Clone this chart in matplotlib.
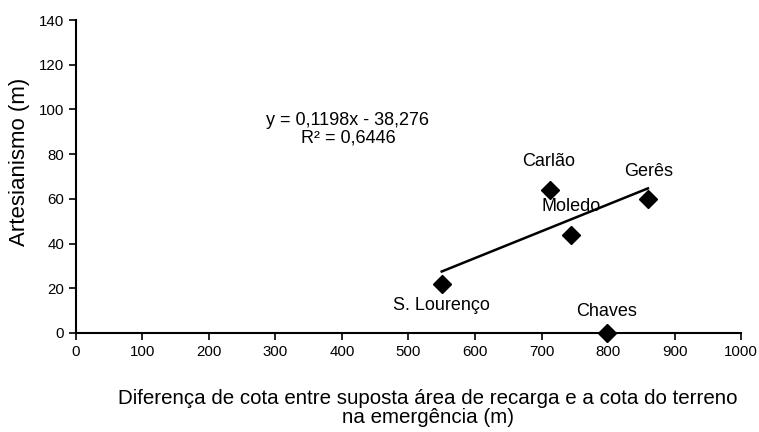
import matplotlib.pyplot as plt
import numpy as np

plt.rcParams['font.family'] = ['Liberation Sans', 'DejaVu Sans']

names = ['S. Lourenço', 'Carlão', 'Moledo', 'Gerês', 'Chaves']
dif_cota = [550, 713, 744, 860, 798]
artesianismo = [22, 64, 44, 60, 0]
# a recta de tendencia nao inclui Chaves
trend_idx = [0, 1, 2, 3]

fig = plt.figure(figsize=(7.59, 4.32), dpi=100)
ax = fig.add_axes([0.1001, 0.2292, 0.8762, 0.7245])

ax.plot(dif_cota, artesianismo, linestyle='none', marker='D', markersize=9,
        color='black', zorder=3, clip_on=False)

xt = np.array([dif_cota[i] for i in trend_idx])
yt = np.array([artesianismo[i] for i in trend_idx])
slope, intercept = np.polyfit(xt, yt, 1)
xl = np.array([xt.min(), xt.max()])
ax.plot(xl, slope * xl + intercept, color='black', lw=1.8)

# deslocamento das etiquetas (unidades dos dados)
offsets = {'S. Lourenço': (-1, -9.5), 'Carlão': (-2, 12.5), 'Moledo': (0, 12.4),
           'Gerês': (1, 12.4), 'Chaves': (0, 9.8)}
for n, x, y in zip(names, dif_cota, artesianismo):
    dx, dy = offsets[n]
    ax.text(x + dx, y + dy, n, ha='center', va='center', fontsize=13)

ax.text(409, 91, 'y = 0,1198x - 38,276\nR² = 0,6446', ha='center', va='center',
        fontsize=13, linespacing=1.05)

ax.set_xlim(0, 1000)
ax.set_ylim(0, 140)
ax.set_xticks(range(0, 1001, 100))
ax.set_yticks(range(0, 141, 20))
for s in ['top', 'right']:
    ax.spines[s].set_visible(False)
for s in ['left', 'bottom']:
    ax.spines[s].set_linewidth(1.5)
ax.tick_params(direction='out', length=5, width=1.2, labelsize=10.8)

fig.text(20 / 759, 1 - 162 / 432, 'Artesianismo (m)', rotation=90,
         ha='center', va='center', fontsize=16)
fig.text(428 / 759, 1 - 408 / 432,
         'Diferença de cota entre suposta área de recarga e a cota do terreno\nna emergência (m)',
         ha='center', va='center', fontsize=14.8, linespacing=1.0)

fig.savefig('out.png', dpi=100)
